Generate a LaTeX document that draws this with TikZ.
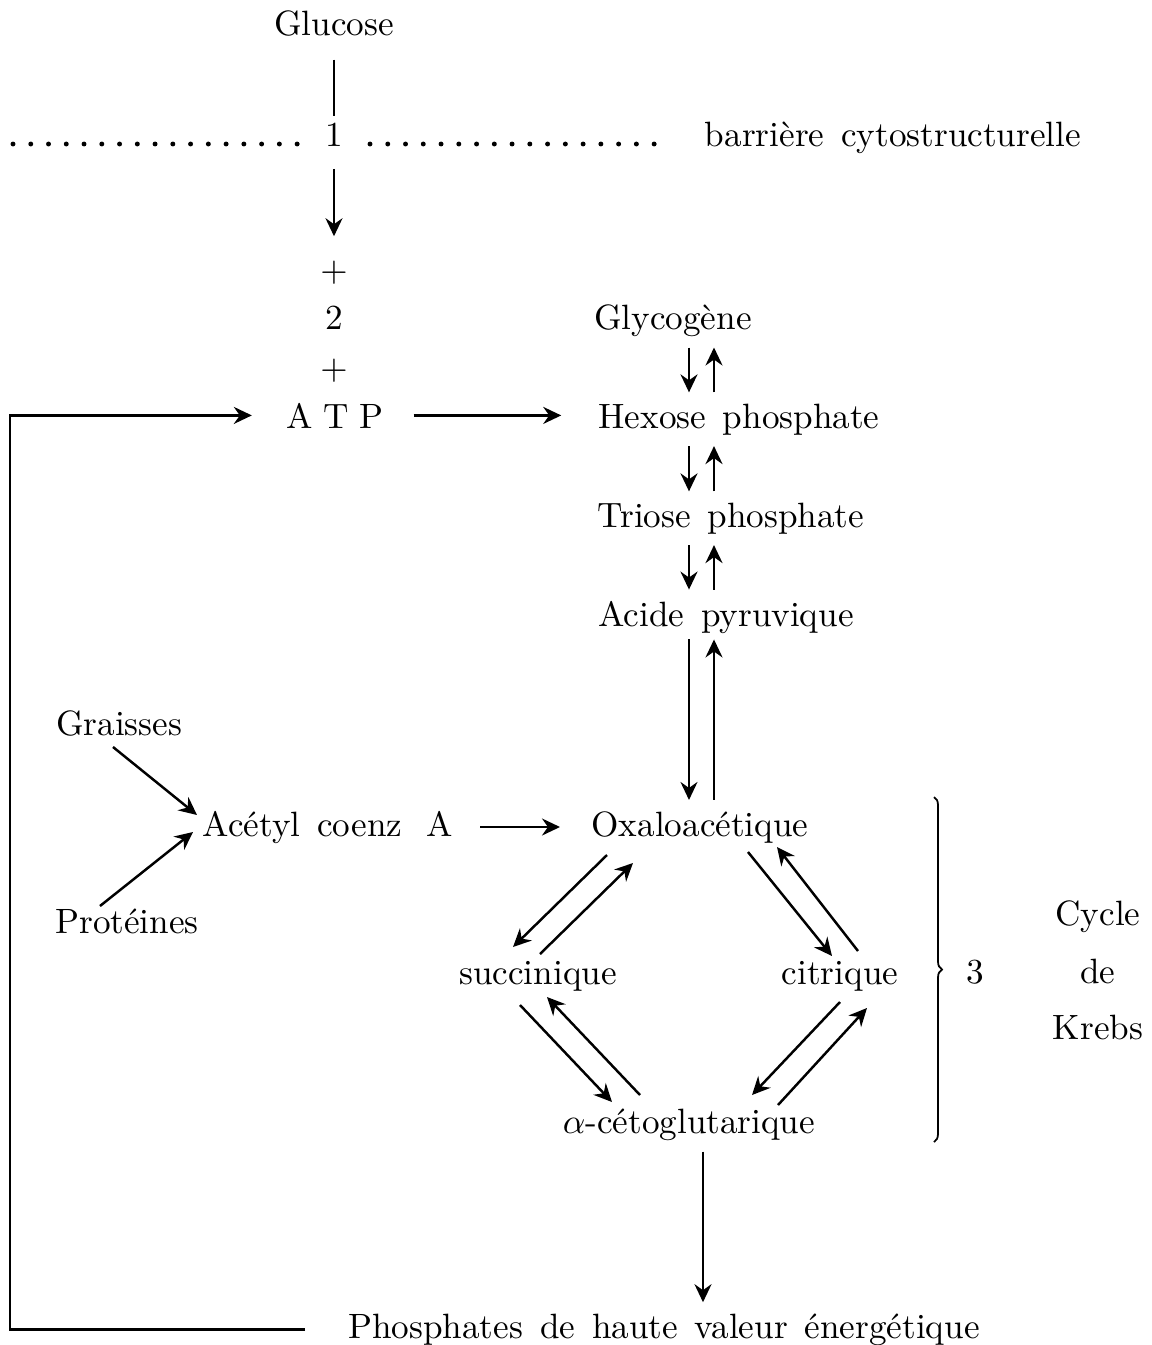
\documentclass[tikz,border=0pt]{standalone}
\usepackage{fontspec}
\usetikzlibrary{arrows.meta,decorations.pathreplacing}

\begin{document}
\begin{tikzpicture}[x=0.01cm, y=-0.01cm,
	lbl/.style={anchor=base, inner sep=3pt, font={\spaceskip=4.8pt\relax}},
	ligne/.style={line width=0.7pt},
	arr/.style={ligne, -{Stealth[length=1.8mm,width=1.7mm,inset=0.6mm]}},
	pointilles/.style={line width=1.4pt, line cap=round, dash pattern=on 0pt off 5.05pt}]
	\useasboundingbox (0,0) rectangle (1151,1345);

	\node[lbl] (glucose) at (334,35) {Glucose};
	\node[lbl] (un) at (334,146) {1};
	\node[lbl] (barriere) at (893,146) {barrière cytostructurelle};
	\node[lbl] (plusA) at (334,281) {$+$};
	\node[lbl] (deux) at (334,329) {2};
	\node[lbl] (plusB) at (334,379) {$+$};
	\node[lbl] (atp) at (335,428) {A\hspace{3pt}T\hspace{3pt}P};

	\node[lbl] (glyco) at (673,329) {Glycogène};
	\node[lbl] (hexose) at (739,428) {Hexose phosphate};
	\node[lbl] (triose) at (731,527) {Triose phosphate};
	\node[lbl] (pyruv) at (726,626) {Acide pyruvique};

	\node[lbl] (graisses) at (119,735) {Graisses};
	\node[lbl] (acetyl) at (328,836) {Acétyl coenz\hspace{7pt}A};
	\node[lbl] (proteines) at (127,933) {Protéines};

	\node[lbl] (oxalo) at (700,836) {Oxaloacétique};
	\node[lbl] (succ) at (538,984) {succinique};
	\node[lbl] (citr) at (840,984) {citrique};
	\node[lbl] (ceto) at (689,1133) {$\alpha$-cétoglutarique};
	\node[lbl] (phos) at (664,1338) {Phosphates de haute valeur énergétique};

	\node[lbl] (trois) at (975,983) {3};
	\node[lbl] (cycle) at (1098,925) {Cycle};
	\node[lbl] (de) at (1098,983) {de};
	\node[lbl] (krebs) at (1098,1039) {Krebs};

	\coordinate (dotA) at (13,144);
	\coordinate (dotB) at (298,144);
	\coordinate (dotC) at (370,144);
	\coordinate (dotD) at (655,144);
	\coordinate (dn) at (689,0);
	\coordinate (up) at (714,0);
	\coordinate (sortie) at (703,0);
	\coordinate (retour) at (10,0);

	\draw[pointilles] (dotA) -- (dotB);
	\draw[pointilles] (dotC) -- (dotD);

	\draw[ligne, shorten <=0.125cm, shorten >=-0.05cm] (glucose.south) -- (glucose.south |- un.north);
	\draw[arr, shorten <=0.115cm, shorten >=0.13cm] (un.south) -- (plusA.north);
	\draw[arr, shorten <=0.19cm, shorten >=0.26cm] (atp.east) -- (atp.east -| hexose.west);
	\draw[arr, shorten <=0.32cm, shorten >=0.235cm] (phos.west) -- (phos.west -| retour) -- (atp.west -| retour) -- (atp.west);

	\draw[arr] (glyco.south -| dn) -- (hexose.north -| dn);
	\draw[arr] (hexose.north -| up) -- (glyco.south -| up);
	\draw[arr] (hexose.south -| dn) -- (triose.north -| dn);
	\draw[arr] (triose.north -| up) -- (hexose.south -| up);
	\draw[arr] (triose.south -| dn) -- (pyruv.north -| dn);
	\draw[arr] (pyruv.north -| up) -- (triose.south -| up);
	\draw[arr, shorten <=-0.05cm] (pyruv.south -| dn) -- (oxalo.north -| dn);
	\draw[arr, shorten >=-0.05cm] (oxalo.north -| up) -- (pyruv.south -| up);

	\draw[arr] ([shift={(-6,12)}]graisses.base) -- ([shift={(-131,-21)}]acetyl.base);
	\draw[arr] ([shift={(-27,-27)}]proteines.base) -- ([shift={(-135,-4)}]acetyl.base);
	\draw[arr] ([shift={(152,-9)}]acetyl.base) -- ([shift={(-140,-9)}]oxalo.base);

	\draw[arr] ([shift={(-93,19)}]oxalo.base) -- ([shift={(-25,-37)}]succ.base);
	\draw[arr] ([shift={(2,-30)}]succ.base) -- ([shift={(-67,27)}]oxalo.base);
	\draw[arr] ([shift={(48,16)}]oxalo.base) -- ([shift={(-8,-28)}]citr.base);
	\draw[arr] ([shift={(18,-33)}]citr.base) -- ([shift={(77,11)}]oxalo.base);
	\draw[arr] ([shift={(-18,21)}]succ.base) -- ([shift={(-77,-31)}]ceto.base);
	\draw[arr] ([shift={(-49,-38)}]ceto.base) -- ([shift={(9,13)}]succ.base);
	\draw[arr] ([shift={(0,18)}]citr.base) -- ([shift={(63,-38)}]ceto.base);
	\draw[arr] ([shift={(89,-28)}]ceto.base) -- ([shift={(27,24)}]citr.base);

	\draw[arr] (ceto.south -| sortie) -- (phos.north -| sortie);

	\draw[line width=0.5pt, decorate, decoration={brace, amplitude=0.08cm}] (934,797) -- (934,1142);
\end{tikzpicture}
\end{document}
